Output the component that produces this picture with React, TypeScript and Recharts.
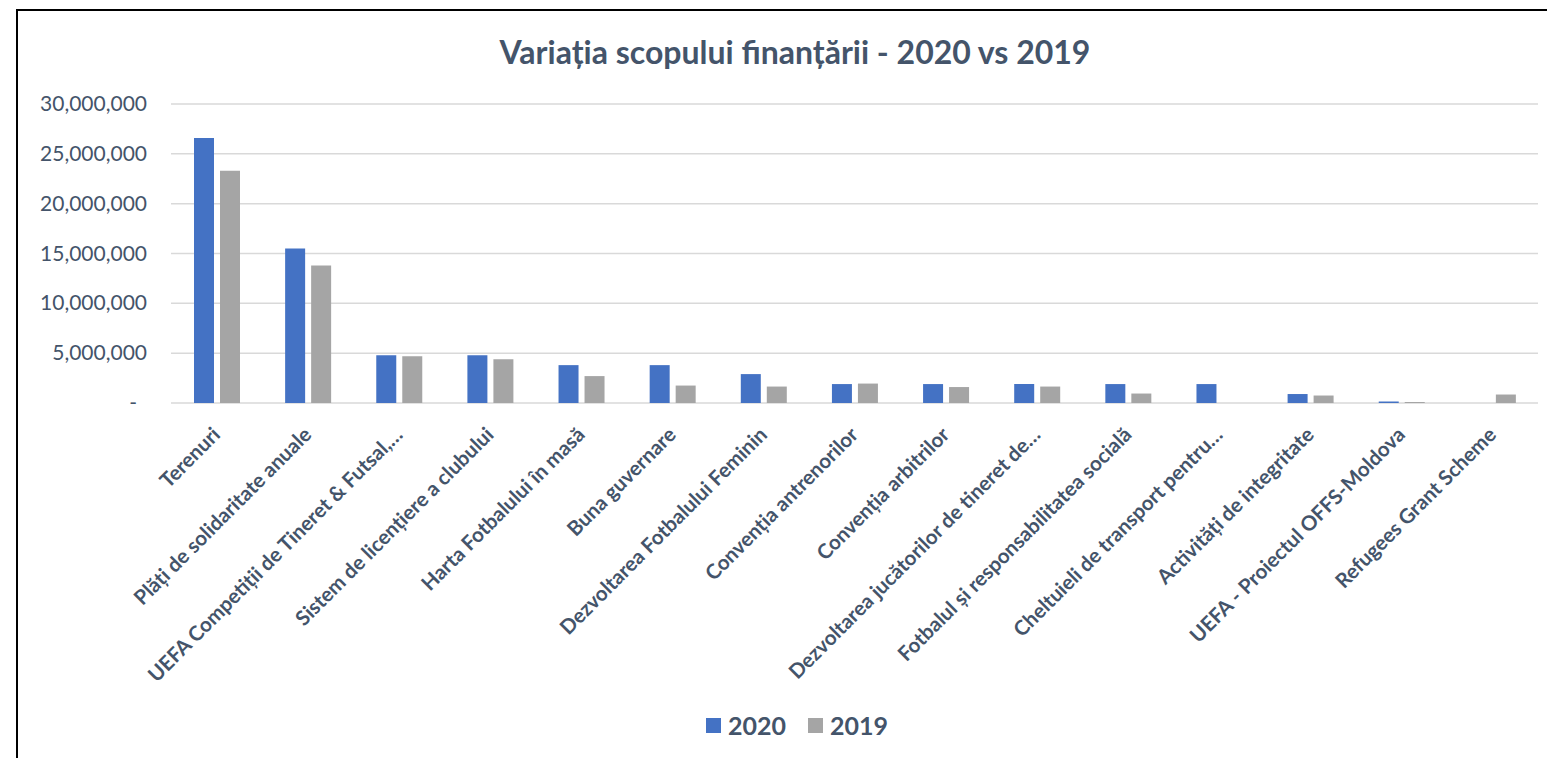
import { BarChart, Bar, XAxis, YAxis, CartesianGrid } from 'recharts';

const categories = [
  'Terenuri',
  'Plăți de solidaritate anuale',
  'UEFA Competiții de Tineret & Futsal,…',
  'Sistem de licențiere a clubului',
  'Harta Fotbalului în masă',
  'Buna guvernare',
  'Dezvoltarea Fotbalului Feminin',
  'Convenția antrenorilor',
  'Convenția arbitrilor',
  'Dezvoltarea jucătorilor de tineret de…',
  'Fotbalul și responsabilitatea socială',
  'Cheltuieli de transport pentru…',
  'Activități de integritate',
  'UEFA - Proiectul OFFS-Moldova',
  'Refugees Grant Scheme',
];

const values2020 = [
  26600000, 15500000, 4800000, 4800000, 3800000, 3800000, 2900000, 1900000,
  1900000, 1900000, 1900000, 1900000, 900000, 150000, 0,
];

const values2019 = [
  23300000, 13800000, 4700000, 4400000, 2700000, 1750000, 1650000, 1950000,
  1600000, 1650000, 950000, 0, 750000, 100000, 850000,
];

const yTicks = [0, 5000000, 10000000, 15000000, 20000000, 25000000, 30000000];

const data = categories.map((name, i) => ({
  name,
  y2020: values2020[i],
  y2019: values2019[i],
}));

const TEXT = '#44546A';
const BLUE = '#4472C4';
const GRAY = '#A5A5A5';
const FONT = 'Lato, "Open Sans", sans-serif';

function XTick(props: any) {
  const { x, y, payload } = props;
  const ax = x + 5;
  const ay = y + 25;
  return (
    <text
      x={ax}
      y={ay}
      transform={`rotate(-45, ${ax}, ${ay})`}
      textAnchor="end"
      fill={TEXT}
      fontSize={20.5}
      fontWeight={700}
      fontFamily={FONT}
    >
      {payload.value}
    </text>
  );
}

function YTick(props: any) {
  const { x, y, payload } = props;
  const v = payload.value as number;
  const label = v === 0 ? '-' : v.toLocaleString('en-US');
  return (
    <text
      x={v === 0 ? x - 10 : x}
      y={y}
      dy={7}
      textAnchor="end"
      fill={TEXT}
      fontSize={21}
      fontFamily={FONT}
    >
      {label}
    </text>
  );
}

export default function App() {
  return (
    <div style={{ position: 'absolute', left: 0, top: 0, width: 1547, height: 758, background: '#fff', overflow: 'hidden' }}>
      <div
        style={{
          position: 'absolute', left: 16, top: 9, width: 1560, height: 780,
          border: '2px solid #000', boxSizing: 'border-box',
        }}
      />
      <div
        style={{
          position: 'absolute', left: 0, top: 32, width: 1590, textAlign: 'center',
          fontFamily: FONT, fontWeight: 700, fontSize: 32, color: TEXT,
        }}
      >
        Variația scopului finanțării - 2020 vs 2019
      </div>
      <div style={{ position: 'absolute', left: 0, top: 0 }}>
        <BarChart
          width={1547}
          height={758}
          data={data}
          margin={{ top: 104, right: 9, left: 0, bottom: 0 }}
          barGap={6}
          barSize={20}
        >
          <CartesianGrid vertical={false} stroke="#D9D9D9" strokeWidth={1.5} />
          <XAxis
            dataKey="name"
            interval={0}
            tickLine={false}
            axisLine={false}
            height={355}
            tick={<XTick />}
          />
          <YAxis
            width={171}
            domain={[0, 30000000]}
            ticks={yTicks}
            tickLine={false}
            axisLine={false}
            tickMargin={18}
            tick={<YTick />}
          />
          <Bar dataKey="y2020" fill={BLUE} isAnimationActive={false} />
          <Bar dataKey="y2019" fill={GRAY} isAnimationActive={false} />
        </BarChart>
      </div>
      <div
        style={{
          position: 'absolute', left: 0, top: 710, width: 1594,
          display: 'flex', justifyContent: 'center', alignItems: 'center', gap: 22,
          fontFamily: FONT, fontWeight: 700, fontSize: 25, color: TEXT,
        }}
      >
        <span style={{ display: 'flex', alignItems: 'center', gap: 7 }}>
          <span style={{ width: 15, height: 15, background: BLUE, display: 'inline-block' }} />
          2020
        </span>
        <span style={{ display: 'flex', alignItems: 'center', gap: 7 }}>
          <span style={{ width: 15, height: 15, background: GRAY, display: 'inline-block' }} />
          2019
        </span>
      </div>
    </div>
  );
}
